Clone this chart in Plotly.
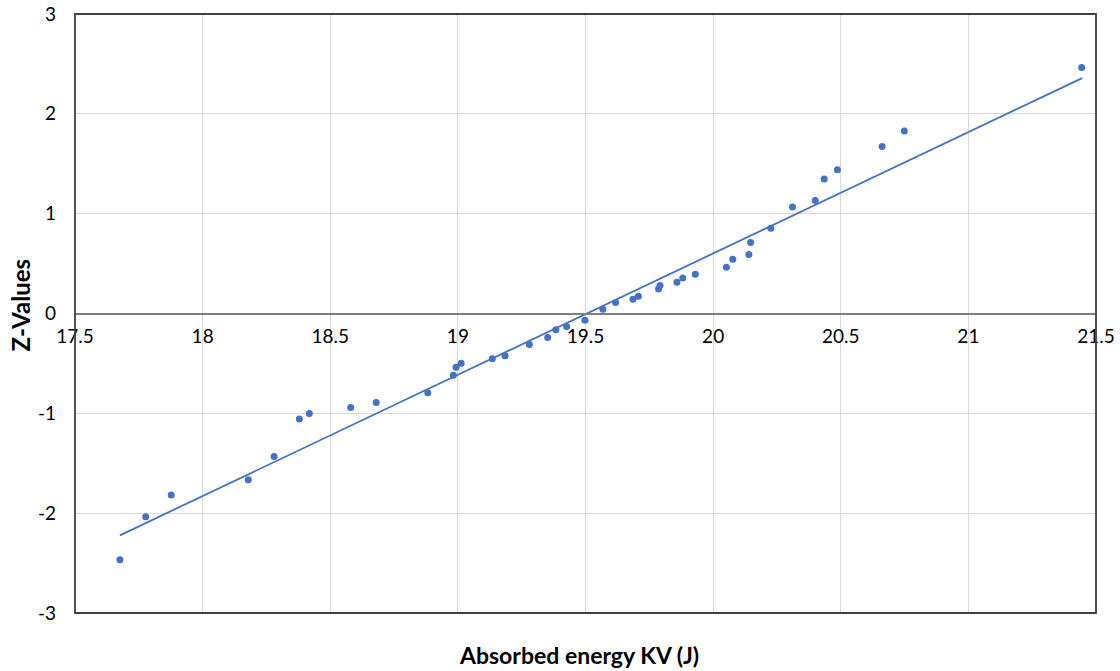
import plotly.graph_objects as go

# Absorbed energy KV (J) and corresponding Z-values
energy = [17.676, 17.777, 17.877, 18.179, 18.280, 18.379, 18.418, 18.580, 18.680, 18.882,
          18.982, 18.993, 19.013, 19.135, 19.185, 19.280, 19.352, 19.384, 19.426, 19.498,
          19.568, 19.618, 19.686, 19.707, 19.786, 19.792, 19.858, 19.881, 19.930, 20.052,
          20.077, 20.140, 20.147, 20.226, 20.311, 20.400, 20.435, 20.487, 20.662, 20.749,
          21.444]
z_values = [-2.466, -2.036, -1.819, -1.666, -1.432, -1.058, -1.001, -0.941, -0.891, -0.795,
            -0.618, -0.538, -0.498, -0.454, -0.424, -0.311, -0.241, -0.164, -0.131, -0.067,
            0.043, 0.110, 0.143, 0.173, 0.246, 0.280, 0.313, 0.356, 0.393, 0.463,
            0.544, 0.590, 0.711, 0.854, 1.067, 1.131, 1.347, 1.441, 1.672, 1.828,
            2.465]

# Linear trendline end points
trend_x = [17.676, 21.446]
trend_y = [-2.222, 2.358]

x_ticks = [17.5, 18, 18.5, 19, 19.5, 20, 20.5, 21, 21.5]
x_tick_text = ["17.5", "18", "18.5", "19", "19.5", "20", "20.5", "21", "21.5"]
y_ticks = [-3, -2, -1, 0, 1, 2, 3]
y_tick_text = ["-3", "-2", "-1", "0", "1", "2", "3"]

BLUE = "#4472C4"
FONT = "Lato"

fig = go.Figure()
fig.add_trace(go.Scatter(x=trend_x, y=trend_y, mode="lines",
                         line=dict(color=BLUE, width=1.8), hoverinfo="skip",
                         showlegend=False))
fig.add_trace(go.Scatter(x=energy, y=z_values, mode="markers",
                         marker=dict(color=BLUE, size=7), showlegend=False))

fig.update_layout(
    width=1120, height=671,
    margin=dict(l=75, r=24, t=14, b=58, autoexpand=False),
    plot_bgcolor="white", paper_bgcolor="white",
    font=dict(family=FONT, size=19, color="#000000"),
    xaxis=dict(range=[17.5, 21.5], tickvals=x_ticks, ticktext=x_tick_text,
               showgrid=True, gridcolor="#D9D9D9", gridwidth=1, automargin=False,
               zeroline=False, showline=True, linecolor="#808080", linewidth=1.5,
               anchor="free", position=0.5, ticks="", ticklabelstandoff=6,
               tickfont=dict(family=FONT, size=19, color="#000000")),
    yaxis=dict(range=[-3, 3], tickvals=y_ticks, ticktext=y_tick_text,
               showgrid=True, gridcolor="#D9D9D9", gridwidth=1, automargin=False,
               zeroline=False, showline=False, ticks="", ticklabelstandoff=18,
               tickfont=dict(family=FONT, size=19, color="#000000")),
    shapes=[dict(type="rect", xref="paper", yref="paper", x0=0, x1=1, y0=0, y1=1,
                 line=dict(color="#404040", width=1.8), layer="above")],
    annotations=[
        dict(text="<b>Absorbed energy KV (J)</b>", xref="paper", yref="paper",
             x=0.494, y=0, yshift=-42, showarrow=False, xanchor="center", yanchor="middle",
             font=dict(family=FONT, size=23, color="#000000")),
        dict(text="<b>Z-Values</b>", xref="paper", yref="paper",
             x=0, xshift=-55, y=0.5, yshift=8, showarrow=False, textangle=-90,
             xanchor="center", yanchor="middle",
             font=dict(family=FONT, size=24, color="#000000")),
    ],
)

fig.write_html("out.html")
